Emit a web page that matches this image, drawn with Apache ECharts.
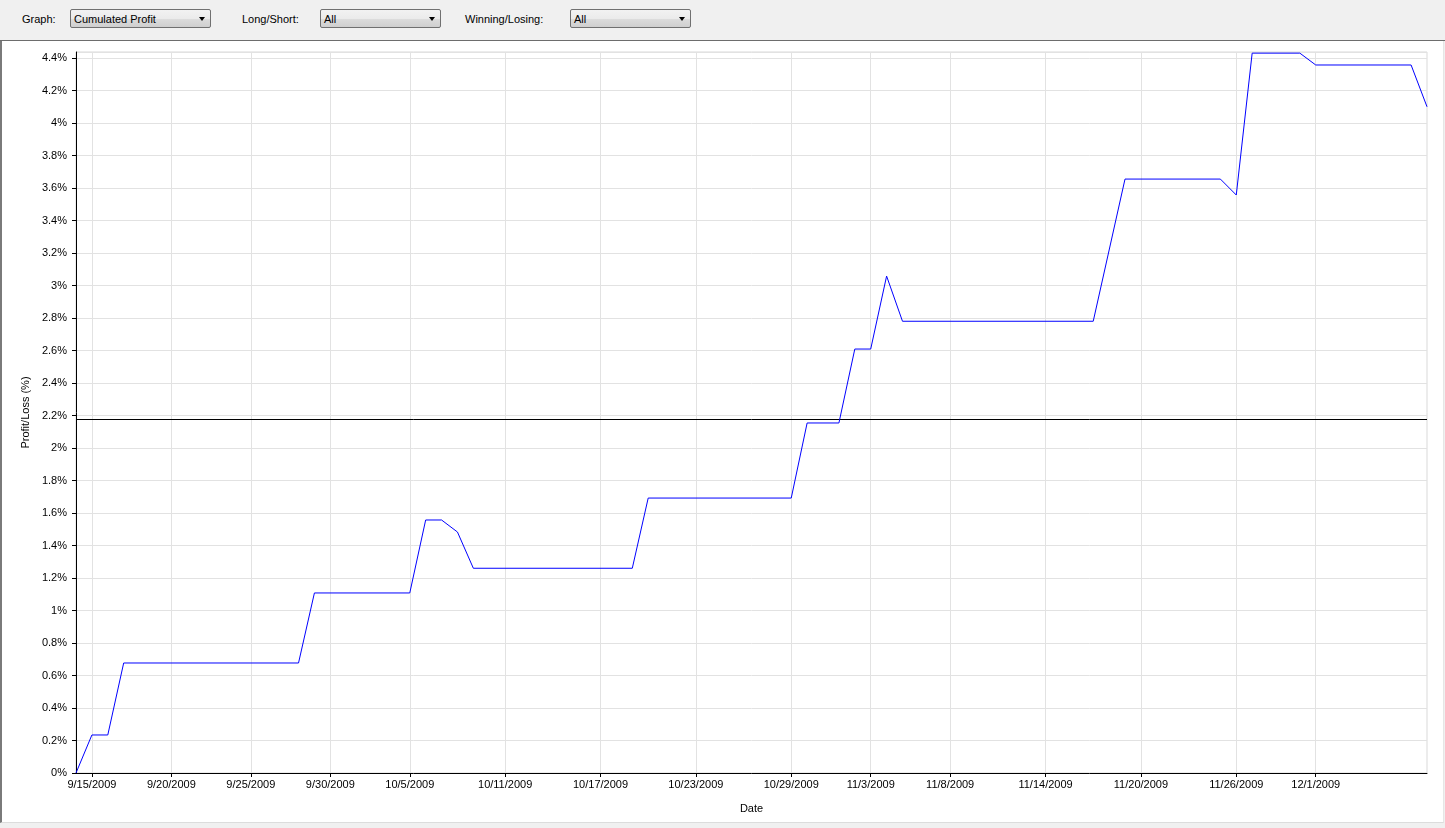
<!DOCTYPE html>
<html>
<head>
<meta charset="utf-8">
<script src="https://cdn.jsdelivr.net/npm/echarts@6/dist/echarts.min.js"></script>
<style>
  html, body { margin: 0; padding: 0; width: 1445px; height: 828px; overflow: hidden; background: #f0f0f0; font-family: "Liberation Sans", Arial, sans-serif; }
  #toolbar { position: absolute; left: 0; top: 0; width: 1445px; height: 40px; background: #f0f0f0; border-bottom: 1px solid #6d6d6d; font-size: 11px; color: #000; }
  .lbl { position: absolute; top: 13px; line-height: 13px; }
  .dd { position: absolute; top: 9px; height: 19px; border: 1px solid #707070; border-radius: 2px;
        background: linear-gradient(#f2f2f2, #ebebeb 50%, #dddddd 51%, #cfcfcf); box-sizing: border-box; }
  .dd span.t { position: absolute; left: 3px; top: 3px; line-height: 13px; }
  .dd span.a { position: absolute; right: 5px; top: 7px; width: 0; height: 0; border-left: 3.5px solid transparent; border-right: 3.5px solid transparent; border-top: 4px solid #000; }
  #panel { position: absolute; left: 0; top: 41px; width: 1441px; height: 781px; background: #fff; border-left: 2px solid #7a7a7a; border-bottom: 1px solid #dcdcdc; border-right: 1px solid #e6e6e6; }
  #chart { position: absolute; left: 0; top: 0; width: 1445px; height: 828px; }
</style>
</head>
<body>
<div id="toolbar">
  <div class="lbl" style="left:22px">Graph:</div>
  <div class="dd" style="left:70px;width:141px"><span class="t">Cumulated Profit</span><span class="a"></span></div>
  <div class="lbl" style="left:242px">Long/Short:</div>
  <div class="dd" style="left:320px;width:121px"><span class="t">All</span><span class="a"></span></div>
  <div class="lbl" style="left:465px">Winning/Losing:</div>
  <div class="dd" style="left:570px;width:121px"><span class="t">All</span><span class="a"></span></div>
</div>
<div id="panel"></div>
<div id="chart"></div>
<script>
// ---- data ----
const dates = ['2009-09-14','2009-09-15','2009-09-16','2009-09-17','2009-09-28','2009-09-29',
  '2009-10-05','2009-10-06','2009-10-07','2009-10-08','2009-10-09','2009-10-19','2009-10-20',
  '2009-10-29','2009-10-30','2009-11-01','2009-11-02','2009-11-03','2009-11-04','2009-11-05',
  '2009-11-17','2009-11-19','2009-11-25','2009-11-26','2009-11-27','2009-11-30','2009-12-01',
  '2009-12-07','2009-12-08'];
const profitPct = [0, 0.234, 0.234, 0.677, 0.677, 1.108,
  1.108, 1.557, 1.557, 1.483, 1.26, 1.26, 1.692,
  1.692, 2.154, 2.154, 2.609, 2.609, 3.058, 2.78,
  2.78, 3.655, 3.655, 3.557, 4.43, 4.43, 4.357,
  4.357, 4.10];
const tickDates = ['2009-09-15','2009-09-20','2009-09-25','2009-09-30','2009-10-05','2009-10-11',
  '2009-10-17','2009-10-23','2009-10-29','2009-11-03','2009-11-08','2009-11-14','2009-11-20',
  '2009-11-26','2009-12-01'];
const averageLine = 2.178;
const xStart = '2009-09-14', xEnd = '2009-12-08';
const yMax = 4.437;

// days counted from xStart (UTC-based, no DST issues)
function dayNum(s) { const p = s.split('-').map(Number); return Date.UTC(p[0], p[1] - 1, p[2]) / 86400000; }
const day0 = dayNum(xStart);
function dayOff(s) { return dayNum(s) - day0; }
function fmtDay(v) { const d = new Date((day0 + v) * 86400000); return (d.getUTCMonth() + 1) + '/' + d.getUTCDate() + '/' + d.getUTCFullYear(); }

const seriesData = dates.map((d, i) => [dayOff(d), profitPct[i]]);
const tickVals = tickDates.map(dayOff);

const chart = echarts.init(document.getElementById('chart'), null, { renderer: 'canvas' });
const font = '"Liberation Sans", Arial, sans-serif';
chart.setOption({
  backgroundColor: 'transparent',
  animation: false,
  textStyle: { fontFamily: font },
  grid: { left: 76, top: 52, right: 18, bottom: 55, show: true, borderColor: '#d9d9d9', borderWidth: 1, backgroundColor: 'transparent' },
  xAxis: {
    type: 'value', min: 0, max: dayOff(xEnd),
    name: 'Date', nameLocation: 'middle', nameGap: 30,
    nameTextStyle: { color: '#000', fontSize: 11, fontFamily: font },
    axisLine: { show: true, lineStyle: { color: '#000', width: 1 } },
    axisTick: { show: true, length: 4, lineStyle: { color: '#000' }, customValues: tickVals },
    axisLabel: { color: '#000', fontSize: 11, fontFamily: font, margin: 6, customValues: tickVals, formatter: v => fmtDay(v), hideOverlap: false },
    splitLine: { show: false }
  },
  yAxis: {
    type: 'value', min: 0, max: yMax, interval: 0.2,
    name: 'Profit/Loss (%)', nameLocation: 'middle', nameGap: 42, nameRotate: 90,
    nameTextStyle: { color: '#000', fontSize: 11, fontFamily: font },
    axisLine: { show: true, lineStyle: { color: '#000', width: 1 } },
    axisTick: { show: true, length: 4, lineStyle: { color: '#000' } },
    axisLabel: { color: '#000', fontSize: 11, fontFamily: font, margin: 9, showMaxLabel: false,
      formatter: v => parseFloat(v.toFixed(1)) + '%' },
    splitLine: { show: true, lineStyle: { color: '#e2e2e2', width: 1 } }
  },
  series: [
    {
      type: 'line', data: [], z: 1, silent: true,
      markLine: { silent: true, z: 1, symbol: 'none', label: { show: false }, animation: false,
        lineStyle: { color: '#e2e2e2', width: 1, type: 'solid' },
        data: tickVals.map(t => ({ xAxis: t })) }
    },
    {
      type: 'line', data: seriesData, z: 3, symbol: 'none', smooth: false,
      lineStyle: { color: '#0000ff', width: 1 },
      markLine: { silent: true, z: 2, symbol: 'none', label: { show: false }, animation: false,
        lineStyle: { color: '#000', width: 1, type: 'solid' },
        data: [{ yAxis: averageLine }] }
    }
  ]
});
</script>
</body>
</html>
